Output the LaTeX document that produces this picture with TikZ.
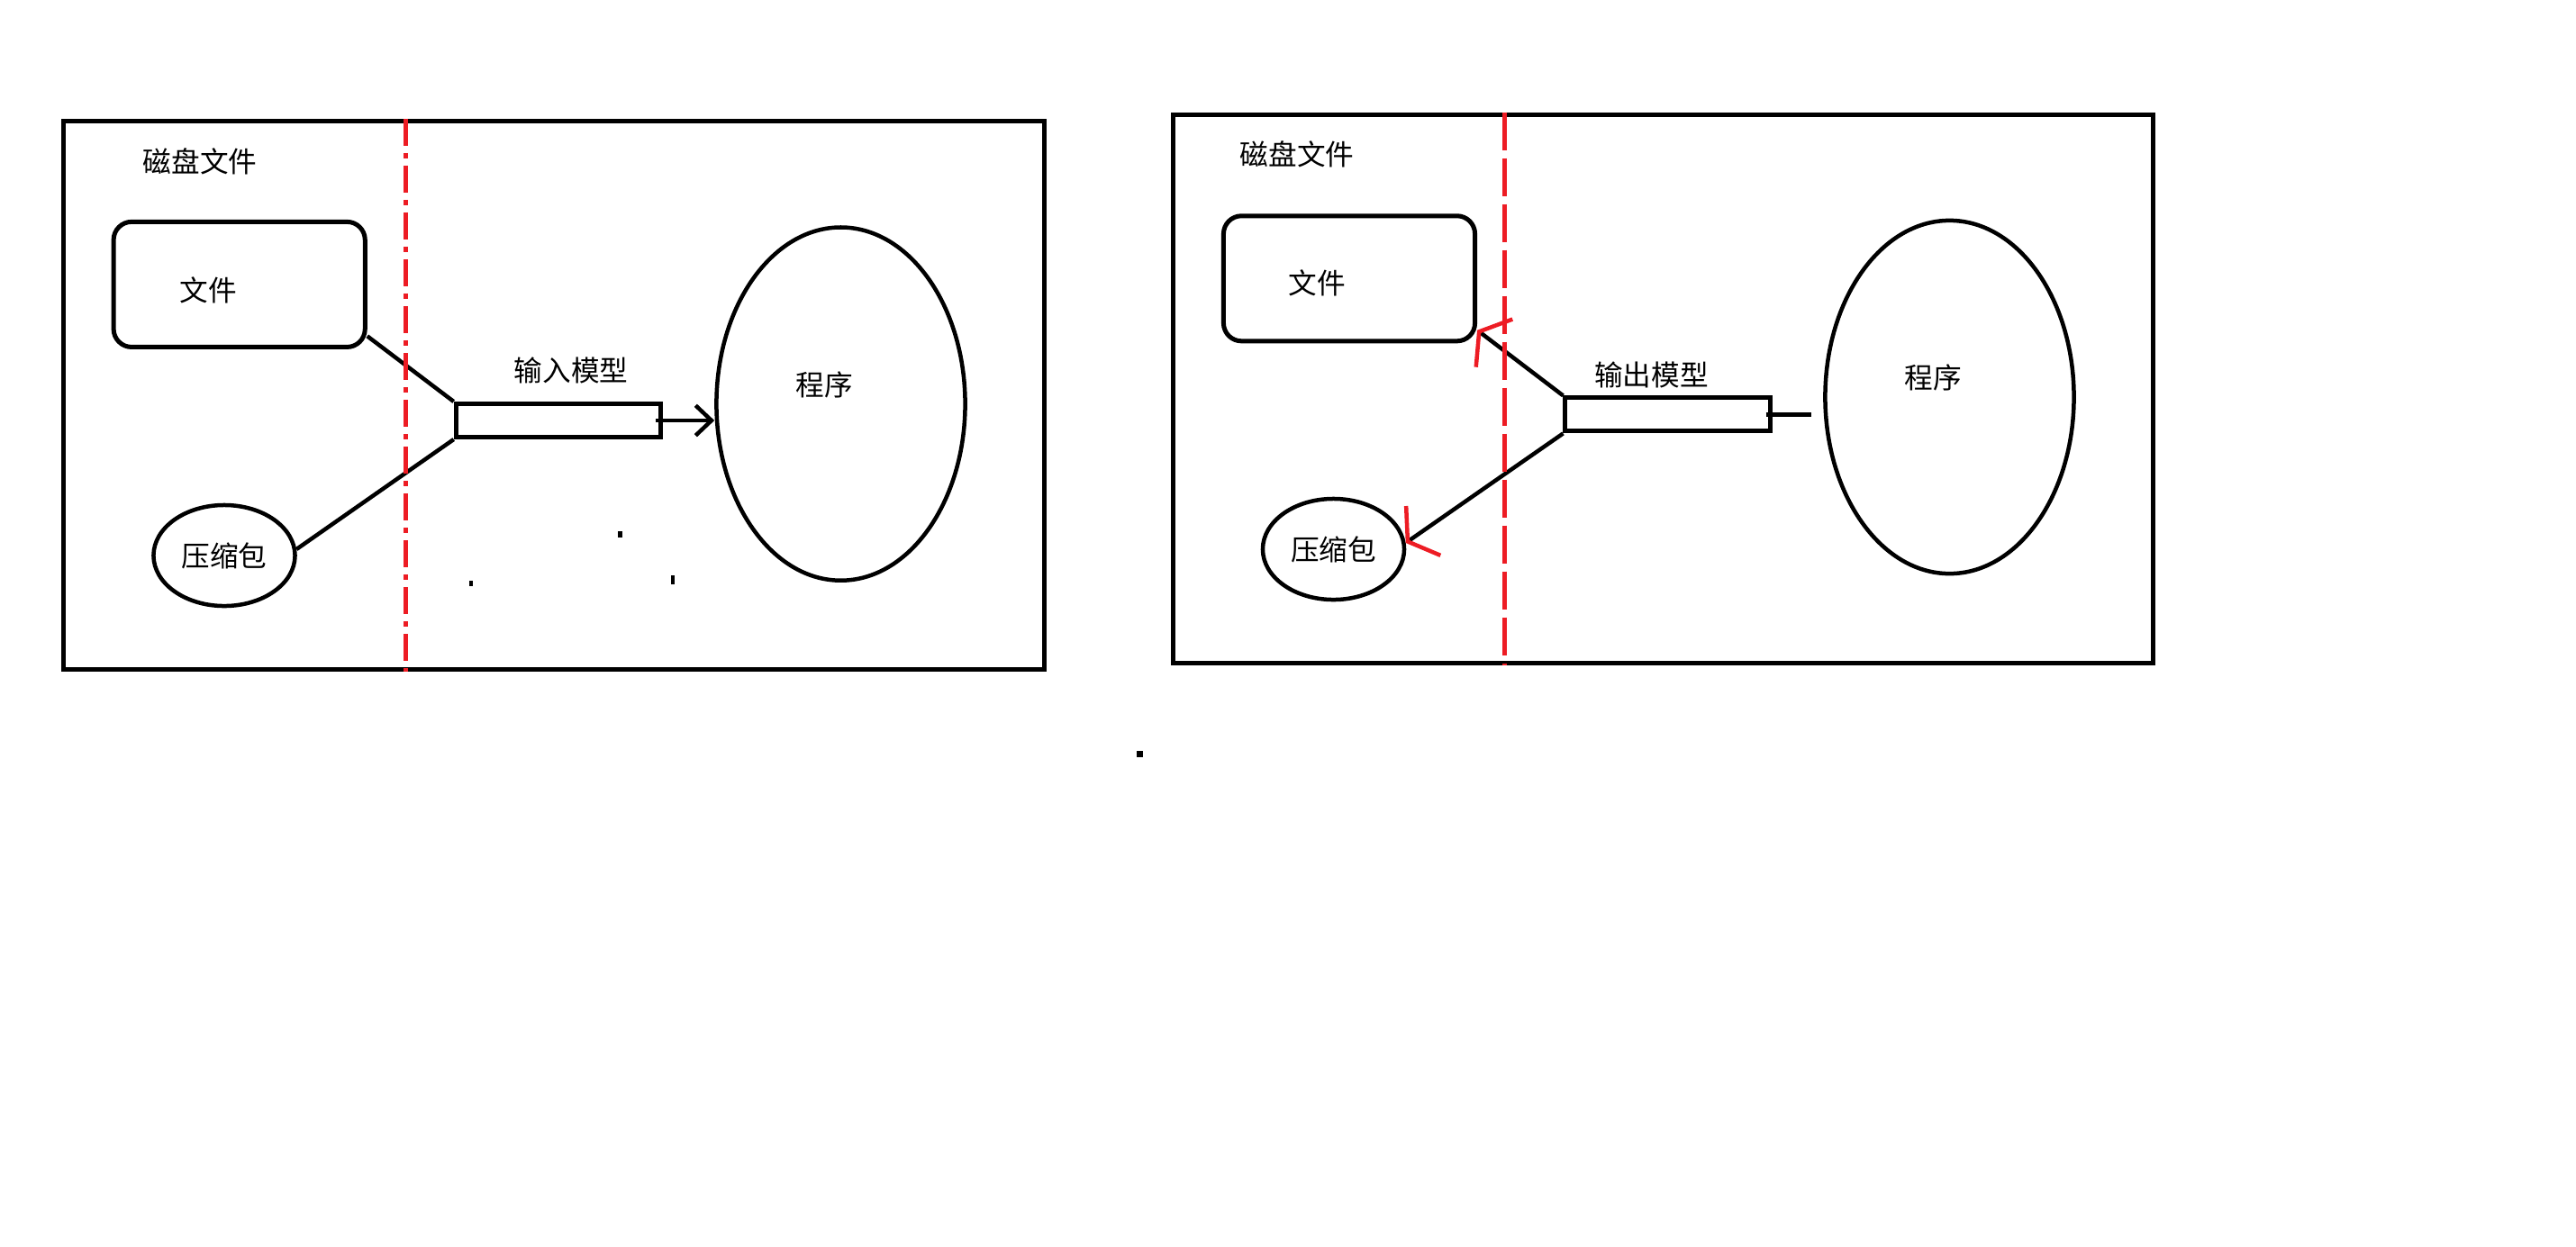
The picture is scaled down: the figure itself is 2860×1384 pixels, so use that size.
\documentclass[tikz,border=0pt]{standalone}
\usepackage{fontspec}
\setmainfont{Noto Sans CJK SC}
\usetikzlibrary{shapes.geometric, arrows.meta, positioning, calc}
\definecolor{paintred}{RGB}{237, 28, 36}

\begin{document}
\begin{tikzpicture}[
    x=0.01cm, y=-0.01cm,
    panel/.style={draw, line width=0.5mm, minimum width=10.88cm, minimum height=6.09cm, inner sep=0pt},
    filebox/.style={draw, rounded corners=2mm, line width=0.5mm,
                    minimum width=2.79cm, minimum height=1.39cm, inner sep=0pt},
    zip/.style={ellipse, draw, line width=0.45mm, minimum width=1.57cm, minimum height=1.12cm,
                inner sep=0pt, font=\fontsize{9}{11}\selectfont},
    pipe/.style={draw, line width=0.5mm, minimum width=2.27cm, minimum height=0.37cm, inner sep=0pt},
    prog/.style={ellipse, draw, line width=0.45mm, minimum width=2.76cm, minimum height=3.92cm, inner sep=0pt},
    txt/.style={font=\fontsize{9}{11}\selectfont, inner sep=0pt},
    wire/.style={line width=0.45mm},
    arr/.style={wire, -{Straight Barb[length=5pt, width=9.5pt]}},
    redarr/.style={wire, -{Straight Barb[paintred, length=6pt, width=19pt]}},
    cut/.style={paintred, line width=0.5mm, dash pattern=on 8.5pt off 2.3pt on 1.7pt off 2.3pt},
]
\useasboundingbox (0,0) rectangle (2860,1384);

% left: input
\node[panel] (panelL) at (614.7,439) {};
\node[txt] (diskL) at (222,179) {磁盘文件};
\node[filebox] (fileL) at (265.7,315.9) {};
\node[txt] (fileLtxt) at (231,322) {文件};
\node[zip] (zipL) at (249,617) {压缩包};
\node[pipe] (pipeL) at (619.8,467) {};
\node[txt] (pipeLtxt) at (634,411) {输入模型};
\node[prog] (progL) at (933.5,448.6) {};
\node[txt] (progLtxt) at (915,427) {程序};

\draw[wire] (fileL.-22) -- (pipeL.north west);
\draw[wire] (zipL.5) -- (pipeL.south west);
\draw[arr] ($(pipeL.east)+(-8,0)$) -- (pipeL.east -| progL.west);

\coordinate (cutL) at (450,0);
\draw[cut] (cutL |- panelL.north) -- (cutL |- panelL.south);

% right: output
\node[panel] (panelR) at (1846.5,431.8) {};
\node[txt] (diskR) at (1440,171) {磁盘文件};
\node[filebox] (fileR) at (1498,309.3) {};
\node[txt] (fileRtxt) at (1462,314) {文件};
\node[zip] (zipR) at (1480.5,610) {压缩包};
\node[pipe] (pipeR) at (1851.5,460.4) {};
\node[txt] (pipeRtxt) at (1833.5,416) {输出模型};
\node[prog] (progR) at (2164.5,441) {};
\node[txt] (progRtxt) at (2146,419) {程序};

\draw[redarr] (pipeR.north west) -- (fileR.-22);
\draw[redarr] (pipeR.south west) -- (zipR.5);
\coordinate (stubR) at (2011,460.4);
\draw[wire] ($(pipeR.east)+(-7,0)$) -- (stubR);

\coordinate (cutR) at (1670,0);
\draw[cut, dash pattern=on 12pt off 2.5pt] (cutR |- panelR.north) -- (cutR |- panelR.south);

% stray marks
\fill (686,590) rectangle (691,597);
\fill (521,645) rectangle (525,651);
\fill (745,639) rectangle (749,649);
\fill (1262,834) rectangle (1269,841);

\end{tikzpicture}
\end{document}
